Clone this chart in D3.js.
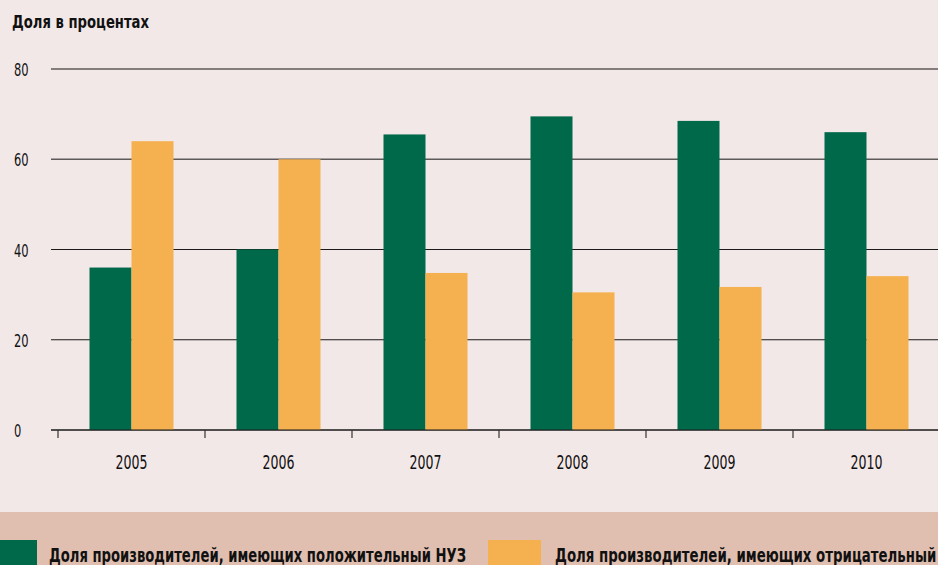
<!DOCTYPE html>
<html><head><meta charset="utf-8">
<script src="https://cdn.jsdelivr.net/npm/d3@7"></script>
<style>
html,body{margin:0;padding:0;background:#F3E8E8;}
svg{display:block;}
text{font-family:"DejaVu Sans Condensed","Liberation Sans Narrow",sans-serif;}
</style></head>
<body>
<svg id="chart" width="938" height="565"></svg>
<script>
const years = ["2005","2006","2007","2008","2009","2010"];
const seriesNames = ["Доля производителей, имеющих положительный НУЗ","Доля производителей, имеющих отрицательный НУЗ"];
const positive = [36, 40, 65.5, 69.5, 68.5, 66];
const negative = [64, 60, 34.8, 30.5, 31.7, 34.1];
const yTicks = [0, 20, 40, 60, 80];
const title = "Доля в процентах";
const colors = ["#00694A", "#F5B04F"];

const W = 938, H = 565;
const svg = d3.select("#chart");
svg.append("rect").attr("width", W).attr("height", H).attr("fill", "#F3E8E8");

const y = d3.scaleLinear().domain([0, 80]).range([430, 69]);
const x = d3.scaleBand().domain(years).range([58, 940]).paddingInner(0).paddingOuter(0);
const xs = d3.scaleBand().domain([0, 1]).range([0, x.bandwidth()]).paddingInner(0).paddingOuter(0.75);

// title
svg.append("text").attr("x", 12).attr("y", 28).attr("font-size", 18).attr("font-weight", "bold")
  .attr("textLength", 137).attr("lengthAdjust", "spacingAndGlyphs")
  .attr("fill", "#111").text(title);

// gridlines
const grid = svg.append("g");
grid.selectAll("line").data(yTicks).join("line")
  .attr("x1", 51).attr("x2", W)
  .attr("y1", d => y(d)).attr("y2", d => y(d))
  .attr("stroke", d => d >= 60 ? "#5f5a5a" : "#1a1a1a")
  .attr("stroke-width", d => d >= 60 ? 1.6 : 1.2);
grid.selectAll("text").data(yTicks).join("text")
  .attr("x", 14).attr("y", d => y(d) + 7).attr("font-size", 18).attr("fill", "#111")
  .attr("textLength", d => String(d).length * 7.3).attr("lengthAdjust", "spacingAndGlyphs")
  .text(d => d);

// bars
const data = [positive, negative];
const groups = svg.append("g").selectAll("g").data(years).join("g")
  .attr("transform", d => `translate(${x(d)},0)`);
groups.selectAll("rect").data((d, i) => [0, 1].map(s => ({s, v: data[s][i]}))).join("rect")
  .attr("x", d => xs(d.s)).attr("width", xs.bandwidth())
  .attr("y", d => y(d.v)).attr("height", d => y(0) - y(d.v))
  .attr("fill", d => colors[d.s]);

// x axis
const ax = svg.append("g").attr("transform", `translate(0,${y(0)})`);
ax.append("line").attr("x1", 51).attr("x2", W).attr("stroke", "#1a1a1a").attr("stroke-width", 1.2);
ax.selectAll("line.tk").data(years).join("line").attr("class", "tk")
  .attr("x1", d => x(d)).attr("x2", d => x(d)).attr("y1", 0).attr("y2", 8)
  .attr("stroke", "#333").attr("stroke-width", 1.2);
ax.selectAll("text.yl").data(years).join("text").attr("class", "yl")
  .attr("x", d => x(d) + x.bandwidth() / 2).attr("y", 39)
  .attr("text-anchor", "middle").attr("font-size", 19).attr("fill", "#111")
  .attr("textLength", 32).attr("lengthAdjust", "spacingAndGlyphs").text(d => d);

// legend band
svg.append("rect").attr("x", 0).attr("y", 512).attr("width", W).attr("height", H - 512).attr("fill", "#E0BFB0");
const legX = [0, 488], legW = [37, 53], legTX = [49, 555];
const leg = svg.append("g").selectAll("g").data(seriesNames).join("g");
leg.append("rect").attr("x", (d, i) => legX[i]).attr("y", 540).attr("width", (d, i) => legW[i]).attr("height", 30)
  .attr("fill", (d, i) => colors[i]);
leg.append("text").attr("x", (d, i) => legTX[i]).attr("y", 562).attr("font-size", 19).attr("font-weight", "bold")
  .attr("textLength", 417).attr("lengthAdjust", "spacingAndGlyphs")
  .attr("fill", "#111").text(d => d);
</script>
</body></html>
